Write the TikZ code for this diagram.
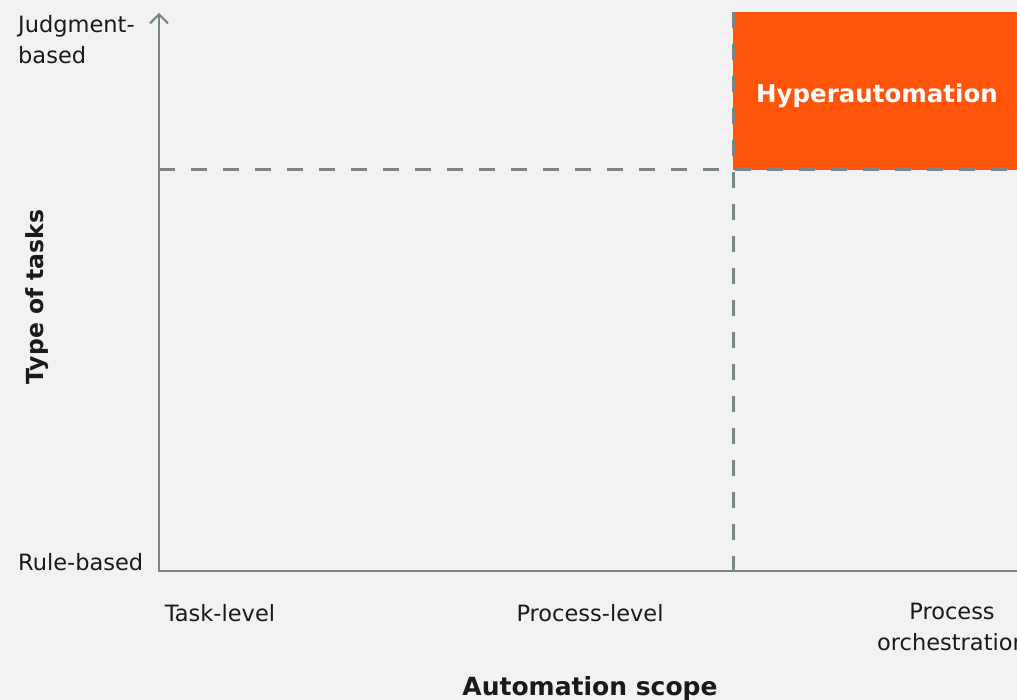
\documentclass[tikz,border=0pt]{standalone}
\usepackage{fontspec}
\setmainfont{DejaVu Sans}
\usetikzlibrary{arrows.meta}

\definecolor{bgGray}{HTML}{F2F2F2}
\definecolor{axisGray}{HTML}{7A8585}
\definecolor{hyperOrange}{HTML}{FF550A}
\definecolor{inkBlack}{HTML}{1A1A1A}

\tikzset{
  tick label/.style={text=inkBlack, font=\fontsize{22.5}{31}\selectfont, inner sep=0pt},
  axis title/.style={text=inkBlack, font=\bfseries\fontsize{25}{30}\selectfont, inner sep=0pt},
  axis line/.style={draw=axisGray, line width=2pt},
  grid dash/.style={draw=axisGray, line width=3pt, dash pattern=on 16pt off 16pt},
}

\begin{document}
\begin{tikzpicture}[x=1pt,y=-1pt]
    \fill[bgGray] (0,0) rectangle (1017,700);
    \useasboundingbox (0,0) rectangle (1017,700);

    % corner points
    \coordinate (origin) at (159,571);
    \coordinate (ytop) at (159,13);
    \coordinate (xend) at (1017,571);
    \coordinate (hleft) at (159,170);
    \coordinate (hright) at (1017,170);
    \coordinate (vtop) at (733,12);
    \coordinate (vbot) at (733,571);

    % top right quadrant
    \fill[hyperOrange] (vtop) rectangle (hright);
    \node[axis title, text=white, font=\bfseries\fontsize{24.5}{30}\selectfont, anchor=base] (hyper) at (877,103) {Hyperautomation};

    % dashed split
    \draw[grid dash] (hleft) -- (hright);
    \draw[grid dash] (vtop) -- (vbot);

    % axes
    \draw[axis line, -{Straight Barb[length=9pt,width=18pt]}] (origin) -- (ytop);
    \draw[axis line] ([xshift=-1pt]origin) -- (xend);

    % y labels
    \node[tick label, anchor=base west, align=left] (judged) at (18,64) {Judgment-\\based};
    \node[tick label, anchor=base west] (ruled) at (18,570) {Rule-based};
    \node[axis title, font=\bfseries\fontsize{23.5}{30}\selectfont, anchor=base, rotate=90] (ytitle) at (43,297) {Type of tasks};

    % x labels
    \node[tick label, anchor=base] (tasklvl) at (220,621) {Task-level};
    \node[tick label, anchor=base] (proclvl) at (590,621) {Process-level};
    \node[tick label, anchor=base, align=center] (orch) at (952,650) {Process\\orchestration};
    \node[axis title, anchor=base] (xtitle) at (590,695) {Automation scope};
\end{tikzpicture}
\end{document}
